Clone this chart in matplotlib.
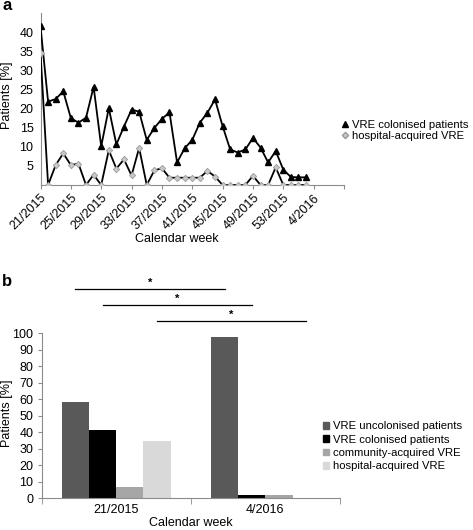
import matplotlib; matplotlib.use("Agg")
import matplotlib.pyplot as plt
from matplotlib.lines import Line2D
from matplotlib.patches import Patch
import numpy as np

plt.rcParams["font.family"] = ["Liberation Sans", "DejaVu Sans"]
FS = 9
LFS = 8.1

# panel a: weekly share of patients, 21/2015 onwards
week_labels = ["21/2015", "25/2015", "29/2015", "33/2015", "37/2015",
               "41/2015", "45/2015", "49/2015", "53/2015", "4/2016"]
colonised = [41.5, 21.8, 22.5, 24.5, 17.5, 16.3, 17.6, 25.7, 10.1, 20.1,
             10.6, 15.3, 19.7, 19.2, 11.8, 14.9, 17.3, 19.0, 5.9, 9.6,
             11.8, 16.3, 18.9, 22.4, 15.4, 9.3, 8.5, 9.3, 12.3, 9.8,
             5.9, 8.9, 4.0, 2.1, 2.0, 2.0]
hospital = [34.6, 0, 5.2, 8.3, 5.2, 5.6, 0, 2.7, 0, 9.1,
            4.3, 6.7, 2.5, 9.7, 0, 3.8, 4.4, 1.9, 1.9, 1.9,
            1.9, 1.9, 3.7, 2.2, 0, 0, 0, 0, 2.4, 0,
            0, 4.6, 0, 0, 0, 0]

# panel b: comparison of first and last week
groups = ["21/2015", "4/2016"]
uncolonised_b = [58.5, 98.0]
colonised_b = [41.5, 2.0]
community_b = [7.0, 2.0]
hospital_b = [34.5, 0.0]
series_names = ["VRE uncolonised patients", "VRE colonised patients",
                "community-acquired VRE", "hospital-acquired VRE"]
bar_colors = ["#595959", "#000000", "#a6a6a6", "#d9d9d9"]

AXC = "#8c8c8c"

fig = plt.figure(figsize=(4.73, 5.30), dpi=100)
W, H = 473.0, 530.0

# ---------------- panel a ----------------
axA = fig.add_axes([40.5/W, 1-185/H, (344-40.5)/W, (185-13)/H])
x = np.arange(len(colonised))
axA.plot(x, colonised, color="black", lw=1.3, marker="^", ms=4.5,
         mfc="black", mec="black", zorder=3)
axA.plot(x, hospital, color="black", lw=1.3, marker="D", ms=3.2,
         mfc="#c8c8c8", mec="#9a9a9a", mew=0.6, zorder=4)
axA.set_xlim(0, 40)
axA.set_ylim(0, 45)
axA.set_yticks(range(5, 41, 5))
axA.set_xticks(range(0, 41, 4))
axA.set_xticklabels(week_labels + [""], rotation=45, ha="right",
                    rotation_mode="anchor", fontsize=FS)
axA.tick_params(axis="x", length=3, color=AXC, pad=2)
axA.tick_params(axis="y", length=0, pad=5, labelsize=FS)
for s in ["top", "right"]:
    axA.spines[s].set_visible(False)
for s in ["left", "bottom"]:
    axA.spines[s].set_color(AXC)
    axA.spines[s].set_linewidth(0.8)
fig.text(7/W, 1-95/H, "Patients [%]", rotation=90, ha="center", va="center", fontsize=FS)
fig.text(177/W, 1-239/H, "Calendar week", ha="center", va="center", fontsize=FS)
fig.text(2/W, 1-6/H, "a", ha="left", va="center", fontsize=12, fontweight="bold")

hA = [Line2D([], [], ls="none", marker="^", ms=4.5, color="black"),
      Line2D([], [], ls="none", marker="D", ms=3.2, mfc="#c8c8c8", mec="#9a9a9a")]
fig.legend(hA, ["VRE colonised patients", "hospital-acquired VRE"],
           loc="center left", bbox_to_anchor=(340/W, 1-130.5/H),
           frameon=False, fontsize=LFS, handlelength=0.8, handletextpad=0.3,
           borderpad=0, borderaxespad=0, labelspacing=0.15)

# ---------------- panel b ----------------
axB = fig.add_axes([41.7/W, 1-498.3/H, (340-41.7)/W, (498.3-333.3)/H])
gx = np.arange(len(groups))
bw = 0.1824
values_b = [uncolonised_b, colonised_b, community_b, hospital_b]
for k, (vals, col, name) in enumerate(zip(values_b, bar_colors, series_names)):
    axB.bar(gx + (k - 1.5) * bw, vals, width=bw, color=col, label=name)
axB.set_xlim(-0.5, 1.5)
axB.set_ylim(0, 100)
axB.set_yticks(range(0, 101, 10))
axB.set_xticks(gx)
axB.set_xticklabels(groups, fontsize=FS)
axB.set_xticks([-0.5, 0.5, 1.5], minor=True)
axB.tick_params(axis="x", which="major", length=0, pad=4)
axB.tick_params(axis="x", which="minor", length=4, color=AXC)
axB.tick_params(axis="y", length=3, color=AXC, pad=3, labelsize=FS)
for s in ["top", "right"]:
    axB.spines[s].set_visible(False)
for s in ["left", "bottom"]:
    axB.spines[s].set_color(AXC)
    axB.spines[s].set_linewidth(0.8)
fig.text(7/W, 1-413/H, "Patients [%]", rotation=90, ha="center", va="center", fontsize=FS)
fig.text(191/W, 1-522.5/H, "Calendar week", ha="center", va="center", fontsize=FS)
fig.text(2/W, 1-281/H, "b", ha="left", va="center", fontsize=12, fontweight="bold")

# significance brackets between matching bars of the two weeks
for k, yl in [(0, 126.8), (1, 117.3), (3, 107.3)]:
    x0 = gx[0] + (k - 1.5) * bw
    x1 = gx[1] + (k - 1.5) * bw
    axB.plot([x0, x1], [yl, yl], color="black", lw=0.9, clip_on=False)
    axB.text((x0 + x1) / 2, yl + 0.8, "*", ha="center", va="bottom",
             fontsize=8, fontweight="bold")

hB = [Patch(color=c) for c in bar_colors]
fig.legend(hB, series_names, loc="center left",
           bbox_to_anchor=(323/W, 1-446.3/H), frameon=False, fontsize=LFS,
           handlelength=0.55, handleheight=0.55, handletextpad=0.35,
           borderpad=0, borderaxespad=0, labelspacing=0.3)

fig.savefig("out.png", dpi=100)
